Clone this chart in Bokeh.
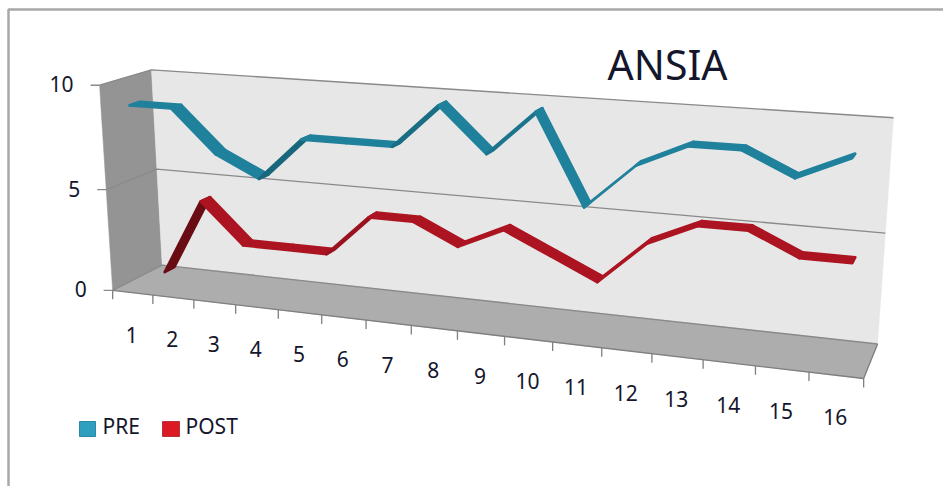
import numpy as np
from bokeh.core.properties import value
from bokeh.embed import file_html
from bokeh.models import ColumnDataSource, Range1d
from bokeh.plotting import figure
from bokeh.resources import INLINE

# Series
categories = list(range(1, 17))
pre_values = [9, 9, 7, 6, 8, 8, 8, 10, 8, 10, 6, 8, 9, 9, 8, 9]
post_values = [0.2, 4, 2, 2, 2, 4, 4, 3, 4, 3, 2, 4, 5, 5, 4, 4]
value_ticks = [0, 5, 10]
value_max = 10

TITLE = "ANSIA"
FONT = value("Noto Sans")
TEXT = "#14162c"

# Camera: (share along categories, share of value axis, share of depth) -> page pixels
calibration = [
    ((0, 0, 0), (112, 290)), ((1, 0, 0), (863, 378)), ((0, 1, 0), (99, 85)),
    ((0, 0, 1), (162, 265)), ((1, 0, 1), (877, 343)), ((0, 1, 1), (151, 70)),
    ((1, 1, 1), (893, 117)), ((0, .5, 1), (156, 168)), ((1, .5, 1), (885, 233)),
    ((0, .5, 0), (106, 188)), ((.5, 0, 0), (457, 331)),
]


def solve_camera(pairs):
    rows = []
    for (u, v, w), (sx, sy) in pairs:
        sx, sy = sx / 1000, sy / 1000
        rows.append([u, v, w, 1, 0, 0, 0, 0, -sx * u, -sx * v, -sx * w, -sx])
        rows.append([0, 0, 0, 0, u, v, w, 1, -sy * u, -sy * v, -sy * w, -sy])
    return np.linalg.svd(np.array(rows, float))[2][-1].reshape(3, 4)


CAMERA = solve_camera(calibration)


def project(u, v, w):
    h = CAMERA @ np.array([u, v, w, 1.0])
    return h[0] / h[2] * 1000, h[1] / h[2] * 1000


def quad(corners):
    pts = [project(*c) for c in corners]
    return [q[0] for q in pts], [q[1] for q in pts]


def mix(rgb, factor):
    return "#%02x%02x%02x" % tuple(int(round(c * factor)) for c in rgb)


def ribbon(values, w_front, w_back, rgb):
    """One quad per segment of a flat band that runs between two depths."""
    n = len(values)
    xs, ys, fills = [], [], []
    for i in range(n - 1):
        u0, u1 = (i + .5) / n, (i + 1.5) / n
        v0, v1 = values[i] / value_max, values[i + 1] / value_max
        qx, qy = quad([(u0, v0, w_front), (u1, v1, w_front), (u1, v1, w_back), (u0, v0, w_back)])
        # Seen from beneath when the band climbs steeply: shade by apparent width
        ax, ay = qx[1] - qx[0], qy[1] - qy[0]
        bx, by = qx[3] - qx[0], qy[3] - qy[0]
        cross = (ax * by - ay * bx) / np.hypot(ax, ay)
        factor = 1 - .38 * min(max(cross, 0) / 6, 1)
        xs.append(qx)
        ys.append(qy)
        fills.append(mix(rgb, factor))
    return ColumnDataSource(dict(xs=xs, ys=ys, fill=fills))


p = figure(width=943, height=486, output_backend="svg", toolbar_location=None,
           x_range=Range1d(0, 943), y_range=Range1d(486, 0),
           x_axis_type=None, y_axis_type=None, min_border=0,
           background_fill_color="white", border_fill_color="white")
p.grid.visible = False
p.outline_line_color = None

# Chart frame
p.line([8, 8, 943], [486, 9, 9], line_color="#a8a8a8", line_width=2.5)

# Walls and floor
walls = [
    ([(0, 0, 0), (0, 1, 0), (0, 1, 1), (0, 0, 1)], "#949494"),
    ([(0, 0, 1), (0, 1, 1), (1, 1, 1), (1, 0, 1)], "#e7e7e7"),
    ([(0, 0, 0), (0, 0, 1), (1, 0, 1), (1, 0, 0)], "#adadad"),
]
for corners, colour in walls:
    wx, wy = quad(corners)
    p.patch(wx, wy, fill_color=colour, line_color=colour, line_width=.5)

# Gridlines follow the left wall and the back wall
for t in value_ticks:
    v = t / value_max
    gx, gy = zip(project(0, v, 0), project(0, v, 1), project(1, v, 1))
    p.line(list(gx), list(gy), line_color="#8a8a8a", line_width=1.3)

# Front edge of the floor and right edge
ex, ey = zip(project(0, 0, 0), project(1, 0, 0), project(1, 0, 1))
p.line(list(ex), list(ey), line_color="#7f7f7f", line_width=1.3)

# Value axis ticks and labels
for t in value_ticks:
    sx, sy = project(0, t / value_max, 0)
    p.line([sx - 9, sx], [sy, sy], line_color="#8a8a8a", line_width=1.3)
    p.text([sx - 26], [sy - 1], text=[str(t)], text_align="right", text_baseline="middle",
           text_font=FONT, text_font_size="21px", text_color=TEXT)

# Category ticks and labels
n_cat = len(categories)
for i in range(n_cat + 1):
    sx, sy = project(i / n_cat, 0, 0)
    p.line([sx, sx], [sy, sy + 9], line_color="#7f7f7f", line_width=1.3)
for i, c in enumerate(categories):
    sx, sy = project((i + .5) / n_cat, 0, 0)
    p.text([sx - 1], [sy + 42], text=[str(c)], text_align="center", text_baseline="middle",
           text_font=FONT, text_font_size="21px", text_color=TEXT)

# Series bands, rear one first
for vals, w0, w1, rgb in [(post_values, .65, .85, (171, 20, 32)),
                          (pre_values, .15, .35, (31, 129, 155))]:
    src = ribbon(vals, w0, w1, rgb)
    p.patches("xs", "ys", source=src, fill_color="fill", line_color="fill",
              line_width=2.8, line_join="round")

# Title
p.text([667], [63], text=[TITLE], text_align="center", text_baseline="middle",
       text_font=FONT, text_font_size="41px", text_color=TEXT)

# Legend
legend = [("PRE", "#2e9fbf", "#2a89a5", 79, 95, 102),
          ("POST", "#dc1a24", "#b8323a", 162, 179, 185)]
for name, fill, edge, x0, x1, tx in legend:
    p.patch([x0, x1, x1, x0], [421, 421, 436, 436], fill_color=fill, line_color=edge, line_width=1)
    p.text([tx], [425], text=[name], text_align="left", text_baseline="middle",
           text_font=FONT, text_font_size="21px", text_color=TEXT)

open("out.html", "w").write(file_html(p, INLINE))
